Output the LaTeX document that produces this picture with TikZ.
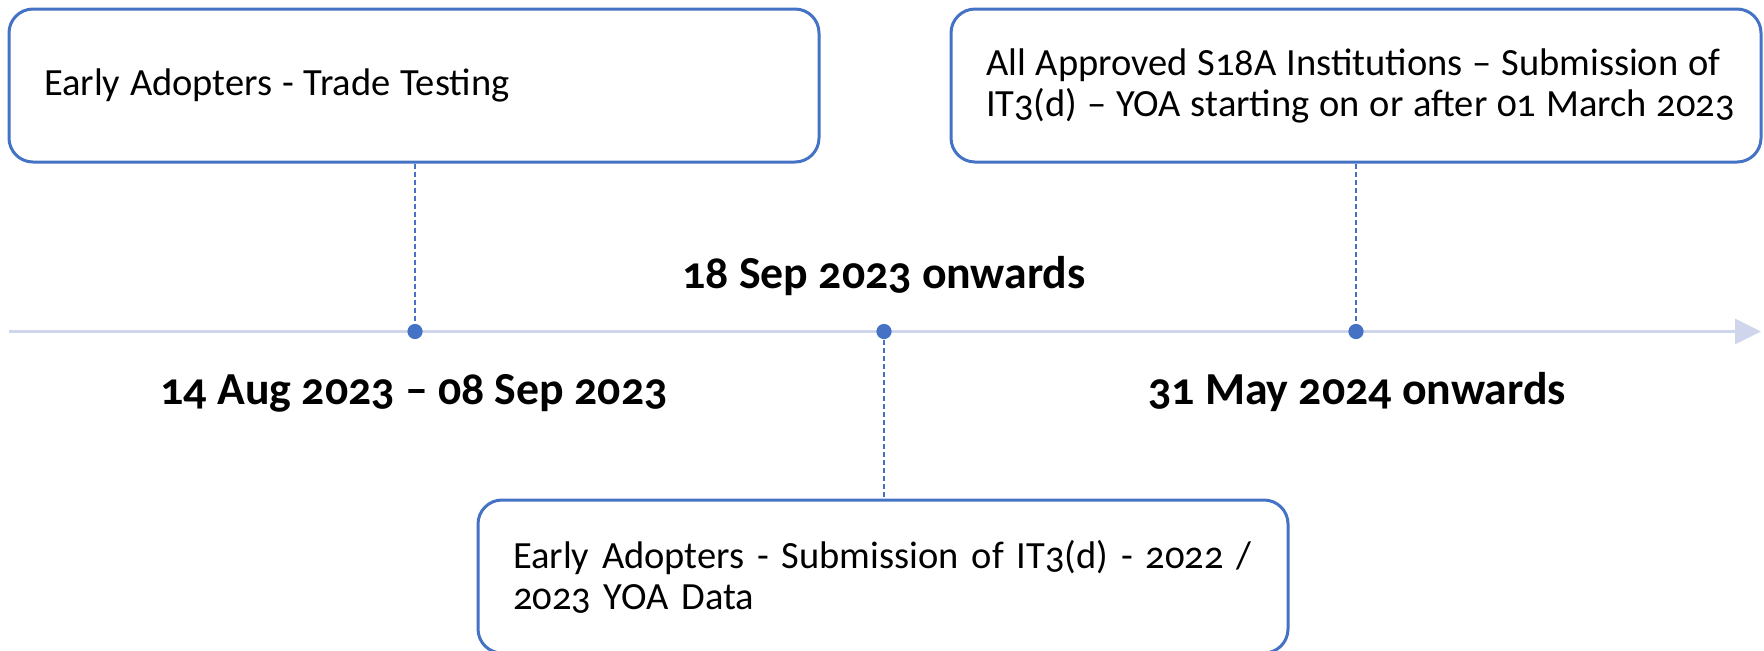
\documentclass[tikz,border=0pt]{standalone}
\usepackage{fontspec}
\setmainfont{Carlito}[Numbers=OldStyle]
\usetikzlibrary{arrows.meta}
\definecolor{boxblue}{HTML}{4472C4}
\definecolor{linelav}{HTML}{CFD5EA}
\tikzset{
  eventbox/.style={draw=boxblue, line width=1.5pt, rounded corners=12pt,
    minimum width=405pt, minimum height=76.5pt, inner xsep=17.5pt, inner ysep=0pt,
    text width=370pt, align=left, font=\fontsize{19.25pt}{20.5pt}\selectfont},
  eventdot/.style={circle, fill=boxblue, minimum size=7.6pt, inner sep=0pt},
  datelabel/.style={anchor=base, inner sep=0pt, font=\fontsize{22.9pt}{26pt}\selectfont\bfseries},
  leader/.style={draw=boxblue, line width=0.7pt, dash pattern=on 2.5pt off 1.5pt},
  axisline/.style={draw=linelav, line width=1.6pt, -{Triangle[length=13pt, width=12.5pt]}}
}
\begin{document}
\begin{tikzpicture}[x=0.5pt, y=-0.5pt]
\useasboundingbox (0,0) rectangle (1764,650);
% timeline
\coordinate (t0) at (9,331.5);
\coordinate (t1) at (1761,331.5);
\draw[axisline] (t0) -- (t1);
% boxes
\node[eventbox] (b1) at (414,85.5) {\spaceskip=0.255em Early Adopters - Trade Testing};
\node[eventbox] (b2) at (1356,85.5) {\spaceskip=0.255em \mbox{All Approved S18A Institutions -- Submission of}\\\mbox{IT3(d) -- YOA starting on or after 01 March 2023}};
\node[eventbox] (b3) at (883,576.5) {\mbox{Early Adopters - Submission of IT3(d) - 2022 /}\\2023 YOA Data};
% leaders
\draw[leader] (b1.south -| 415,0) coordinate (l1) -- (415,331.5) coordinate (l1e);
\draw[leader] (884,331.5) coordinate (l2) -- (b3.north -| 884,0) coordinate (l2e);
\draw[leader] (b2.south -| 1356,0) coordinate (l3) -- (1356,331.5) coordinate (l3e);
% dots
\node[eventdot] (d1) at (l1e) {};
\node[eventdot] (d2) at (l2) {};
\node[eventdot] (d3) at (l3e) {};
% date labels
\node[datelabel] (lab1) at (414,404) {14 Aug 2023 -- 08 Sep 2023};
\node[datelabel] (lab2) at (884,288) {18 Sep 2023 onwards};
\node[datelabel] (lab3) at (1357,404) {31 May 2024 onwards};
\end{tikzpicture}
\end{document}
